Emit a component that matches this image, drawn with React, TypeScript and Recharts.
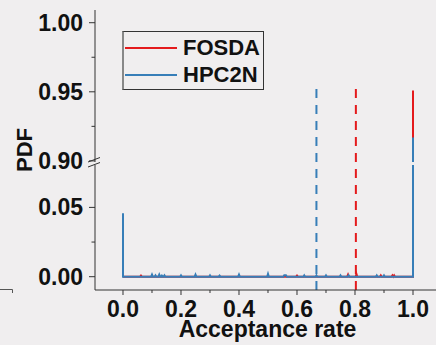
import { LineChart, Line, XAxis, YAxis, ReferenceLine, Legend, Label } from 'recharts';

// acceptance rate / PDF points (baseline zeros around each spike)
const fosdaRate = [0, 0.059, 0.062, 0.065, 0.597, 0.6, 0.603, 0.773, 0.776, 0.779, 0.802, 0.805, 0.808,
  0.886, 0.889, 0.892, 0.926, 0.929, 0.932, 0.935, 0.938, 1.0, 1.0];
const fosdaPdf = [0, 0, 0.0008, 0, 0, 0.0008, 0, 0, 0.0015, 0, 0, 0.002, 0,
  0, 0.001, 0, 0, 0.001, 0, 0.001, 0, 0, 0.951];

const hpc2nRate = [0, 0, 0.097, 0.1, 0.103, 0.109, 0.112, 0.115, 0.122, 0.125, 0.128, 0.131, 0.134, 0.137,
  0.14, 0.143, 0.146, 0.197, 0.2, 0.203, 0.247, 0.25, 0.253, 0.297, 0.3, 0.303, 0.33, 0.333, 0.336,
  0.397, 0.4, 0.403, 0.497, 0.5, 0.503, 0.553, 0.556, 0.562, 0.565, 0.622, 0.625, 0.628,
  0.664, 0.667, 0.67, 0.697, 0.7, 0.703, 0.747, 0.75, 0.753, 0.775, 0.778, 0.781,
  0.872, 0.875, 0.878, 0.897, 0.9, 0.903, 1.0, 1.0];
const hpc2nPdf = [0.0457, 0, 0, 0.0015, 0, 0, 0.001, 0, 0, 0.0015, 0, 0, 0.0008, 0,
  0, 0.001, 0, 0, 0.001, 0, 0, 0.0015, 0, 0, 0.001, 0, 0, 0.0008, 0,
  0, 0.0015, 0, 0, 0.002, 0, 0, 0.001, 0.001, 0, 0, 0.001, 0,
  0, 0.001, 0, 0, 0.001, 0, 0, 0.001, 0, 0, 0.001, 0,
  0, 0.001, 0, 0, 0.001, 0, 0, 0.917];

const fosdaMean = 0.803;
const hpc2nMean = 0.667;
const meanTop = 0.953;

const xTicks = [0, 0.1, 0.2, 0.3, 0.4, 0.5, 0.6, 0.7, 0.8, 0.9, 1.0];
const upperTicks = [0.9, 0.925, 0.95, 0.975, 1.0];
const lowerTicks = [0, 0.025, 0.05];

const fosdaData = fosdaRate.map((rate, i) => ({ rate, pdf: fosdaPdf[i] }));
const hpc2nData = hpc2nRate.map((rate, i) => ({ rate, pdf: hpc2nPdf[i] }));

const RED = '#e41a1c';
const BLUE = '#377eb8';
const AXIS = '#333';
const BG = '#f0eeef';
const FONT = '"Liberation Sans", Arial, sans-serif';
const xDomain = [-0.09655, 1.07931];
const upperDomain = [0.8992, 1.0092];
const lowerDomain = [-0.0096, 0.0806];

function YTick(props: any) {
  const { x, y, payload } = props;
  const v = payload.value;
  const major = Math.round(v * 1000) % 50 === 0;
  return (
    <g>
      <line x1={x} x2={x - (major ? 6 : 3.5)} y1={y} y2={y} stroke={AXIS} />
      {major && (
        <text x={x - 12} y={y + 8} textAnchor="end" fontFamily={FONT} fontWeight="bold" fontSize={23} fill="#111">
          {v.toFixed(2)}
        </text>
      )}
    </g>
  );
}

function XTick(props: any) {
  const { x, y, payload } = props;
  const v = payload.value;
  const major = Math.round(v * 10) % 2 === 0;
  return (
    <g>
      <line x1={x} x2={x} y1={y} y2={y + (major ? 5 : 3)} stroke={AXIS} />
      {major && (
        <text x={x} y={y + 27} textAnchor="middle" fontFamily={FONT} fontWeight="bold" fontSize={23} fill="#111">
          {v.toFixed(1)}
        </text>
      )}
    </g>
  );
}

function LegendBox(props: any) {
  const items = props.payload || [];
  return (
    <div style={{ position: 'relative', width: 139, height: 57, border: `1px solid ${AXIS}`, borderLeft: '2px solid #888', background: BG }}>
      {items.map((it: any, i: number) => (
        <div key={it.value} style={{ position: 'absolute', left: 0, top: 3 + i * 27, height: 26, display: 'flex', alignItems: 'center' }}>
          <div style={{ width: 52, height: 2.5, background: it.color, marginLeft: 1 }} />
          <span style={{ marginLeft: 6, fontFamily: FONT, fontWeight: 'bold', fontSize: 22, color: '#111', lineHeight: '26px' }}>
            {it.value}
          </span>
        </div>
      ))}
    </div>
  );
}

export default function App() {
  return (
    <div style={{ position: 'absolute', left: 0, top: 0, width: 436, height: 345, background: BG, overflow: 'hidden' }}>
      <LineChart width={436} height={176} margin={{ top: 10, right: 0, bottom: 14, left: 0 }} style={{ position: 'absolute', left: 0, top: 0 }}>
        <XAxis type="number" dataKey="rate" domain={xDomain} allowDataOverflow hide />
        <YAxis type="number" width={95} domain={upperDomain} allowDataOverflow ticks={upperTicks} interval={0}
          tickSize={0} tickMargin={0} tick={<YTick />} axisLine={{ stroke: AXIS }} />
        <ReferenceLine segment={[{ x: hpc2nMean, y: upperDomain[0] }, { x: hpc2nMean, y: meanTop }]} stroke={BLUE} strokeWidth={2} strokeDasharray="9 7" />
        <ReferenceLine segment={[{ x: fosdaMean, y: upperDomain[0] }, { x: fosdaMean, y: meanTop }]} stroke={RED} strokeWidth={2} strokeDasharray="9 7" />
        <Line data={fosdaData} dataKey="pdf" name="FOSDA" type="linear" stroke={RED} strokeWidth={2} dot={false} isAnimationActive={false} />
        <Line data={hpc2nData} dataKey="pdf" name="HPC2N" type="linear" stroke={BLUE} strokeWidth={2} dot={false} isAnimationActive={false} />
        <Legend layout="vertical" align="center" verticalAlign="middle" content={<LegendBox />}
          wrapperStyle={{ left: 122, top: 31, width: 'auto', height: 'auto' }} />
      </LineChart>
      <LineChart width={436} height={180} margin={{ top: 0, right: 0, bottom: 0, left: 0 }} style={{ position: 'absolute', left: 0, top: 165 }}>
        <XAxis type="number" dataKey="rate" domain={xDomain} allowDataOverflow ticks={xTicks} interval={0} height={55}
          tickSize={0} tickMargin={0} tick={<XTick />} axisLine={{ stroke: AXIS }}>
          <Label value="Acceptance rate" position="insideBottom" offset={8} dx={2} fontFamily={FONT} fontWeight="bold" fontSize={23} fill="#111" />
        </XAxis>
        <YAxis type="number" width={95} domain={lowerDomain} allowDataOverflow ticks={lowerTicks} interval={0}
          tickSize={0} tickMargin={0} tick={<YTick />} axisLine={{ stroke: AXIS }} />
        <ReferenceLine x={hpc2nMean} stroke={BLUE} strokeWidth={2} strokeDasharray="9 7" />
        <ReferenceLine x={fosdaMean} stroke={RED} strokeWidth={2} strokeDasharray="9 7" />
        <Line data={fosdaData} dataKey="pdf" name="FOSDA" type="linear" stroke={RED} strokeWidth={2} dot={false} isAnimationActive={false} />
        <Line data={hpc2nData} dataKey="pdf" name="HPC2N" type="linear" stroke={BLUE} strokeWidth={2} dot={false} isAnimationActive={false} />
      </LineChart>
      <svg width={436} height={345} style={{ position: 'absolute', left: 0, top: 0, pointerEvents: 'none' }}>
        <line x1={88} y1={162} x2={100} y2={157.5} stroke={AXIS} />
        <line x1={88} y1={167} x2={100} y2={162.5} stroke={AXIS} />
        <line x1={0} y1={289.5} x2={12.5} y2={289.5} stroke="#555" />
        <line x1={12.5} y1={289.5} x2={12.5} y2={293} stroke="#555" />
        <text transform="translate(32,150) rotate(-90)" textAnchor="middle" fontFamily={FONT} fontWeight="bold" fontSize={22} fill="#111">
          PDF
        </text>
      </svg>
    </div>
  );
}
